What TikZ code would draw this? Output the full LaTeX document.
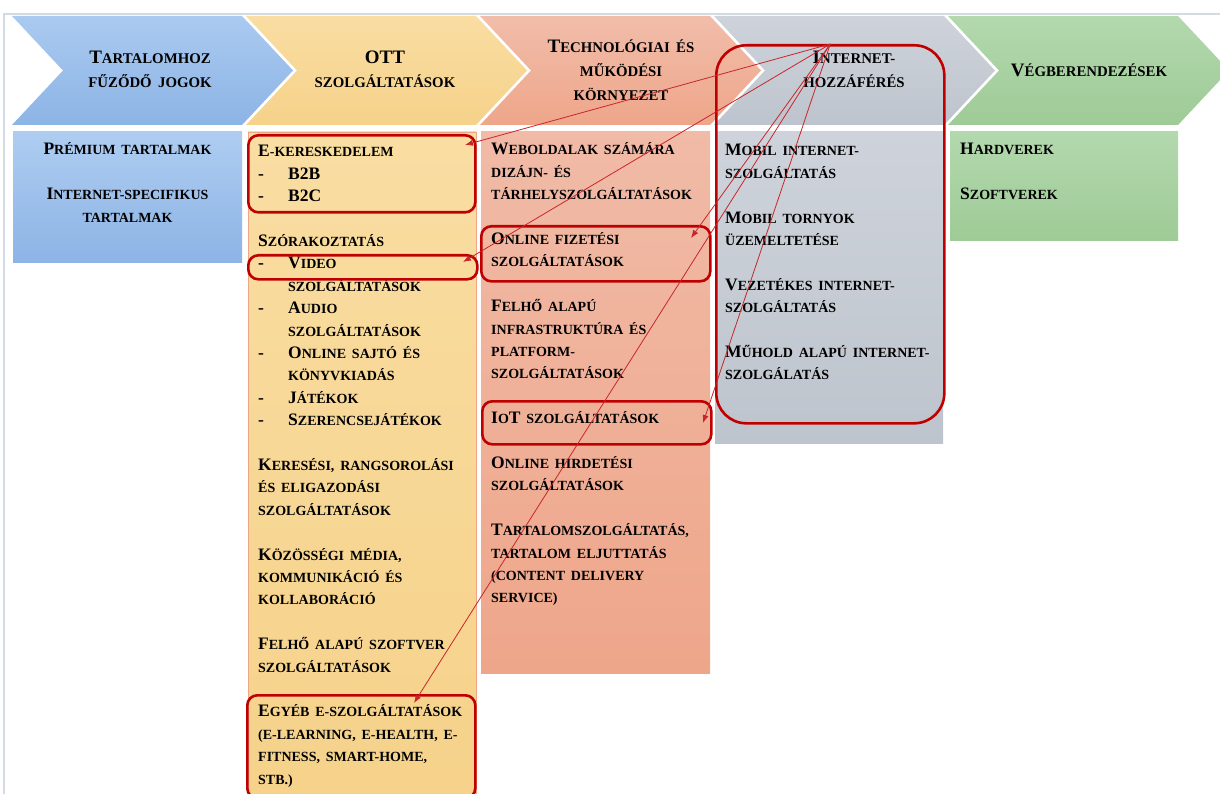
\documentclass[tikz,border=0pt]{standalone}
\usepackage{fontspec}
\setmainfont{Liberation Serif}
\usetikzlibrary{arrows.meta}

\definecolor{blueT}{HTML}{AACAF0}
\definecolor{blueB}{HTML}{8CB4E5}
\definecolor{yellowT}{HTML}{F9DDA2}
\definecolor{yellowB}{HTML}{F6D28A}
\definecolor{salmonT}{HTML}{F1BDAA}
\definecolor{salmonB}{HTML}{EEA68A}
\definecolor{grayT}{HTML}{CED3DB}
\definecolor{grayB}{HTML}{BEC4CD}
\definecolor{greenT}{HTML}{B3D8AE}
\definecolor{greenB}{HTML}{9ECB96}
\definecolor{yellowEdge}{HTML}{EDA583}
\definecolor{boxred}{HTML}{C00000}
\definecolor{linkred}{HTML}{C8262B}
\definecolor{framegray}{HTML}{D3DAE3}

% small capitals made from scaled-down capitals
\newcommand\loratio{0.8}
\makeatletter
\newcommand\lo[1]{{\fontsize{\fpeval{\loratio*\f@size}}{\f@baselineskip}\selectfont #1}}
\makeatother
\newcommand\itm[1]{\makebox[30pt][l]{-}#1}
\newcommand\ind{\hspace*{30pt}}

\begin{document}
\begin{tikzpicture}[x=1pt,y=-1pt,
  hdr/.style={anchor=base, text width=230pt, align=center, inner sep=0pt,
    font=\renewcommand\loratio{0.78}\bfseries\fontsize{19}{23.8}\selectfont},
  body/.style={anchor=base west, text width=240pt, align=left, inner sep=0pt,
    font=\bfseries\fontsize{17.5}{22.4}\selectfont},
  bodyc/.style={body, anchor=base, text width=229pt, align=center},
  redbox/.style={draw=boxred, line width=2.6pt, rounded corners=10pt,
    inner sep=0pt, anchor=north west},
  link/.style={draw=linkred, line width=0.8pt, -{Latex[length=8pt,width=6pt]}},
]
\clip (0,0) rectangle (1220,794);
\fill[white] (0,0) rectangle (1220,794);

% outer frame
\draw[framegray, line width=2pt] (4,800) -- (4,14) -- (1225,14);

% value-chain chevrons
\foreach \L/\ct/\cb in {12/blueT/blueB, 246/yellowT/yellowB, 480/salmonT/salmonB,
                        714/grayT/grayB, 948/greenT/greenB}
  \shade[top color=\ct, bottom color=\cb]
    (\L,16) -- ++(230,0) -- ++(51,54.5) -- ++(-51,54.5) -- ++(-230,0)
    -- ++(51,-54.5) -- cycle;

% columns under the chevrons
\shade[top color=blueT!95!white, bottom color=blueB] (13,132) rectangle (242,263);
\shadedraw[top color=yellowT, bottom color=yellowB, draw=yellowEdge, line width=0.8pt]
  (248,132) rectangle (476,800);
\shade[top color=salmonT!90!salmonB, bottom color=salmonB] (481,132) rectangle (710,673);
\shade[top color=grayT, bottom color=grayB] (715,132) rectangle (943,443);
\shade[top color=greenT, bottom color=greenB] (950,132) rectangle (1178,241);

% chevron titles
\node[hdr] (h1) at (150,64) {T\lo{ARTALOMHOZ}\\\lo{FŰZŐDŐ JOGOK}};
\node[hdr] (h2) at (385,64) {OTT\\\lo{SZOLGÁLTATÁSOK}};
\node[hdr] (h3) at (621,53) {T\lo{ECHNOLÓGIAI ÉS}\\\lo{MŰKÖDÉSI}\\\lo{KÖRNYEZET}};
\node[hdr] (h4) at (854,64) {I\lo{NTERNET-}\\\lo{HOZZÁFÉRÉS}};
\node[hdr] (h5) at (1089,77) {V\lo{ÉGBERENDEZÉSEK}};

% column contents
\node[bodyc] (t1) at (127.5,155) {P\lo{RÉMIUM TARTALMAK}\\[22.4pt]
  I\lo{NTERNET-SPECIFIKUS}\\\lo{TARTALMAK}};

\node[body] (t2) at (258,157) {E\lo{-KERESKEDELEM}\\
\itm{B2B}\\
\itm{B2C}\\[22.4pt]
S\lo{ZÓRAKOZTATÁS}\\
\itm{V\lo{IDEO}}\\
\ind\lo{SZOLGÁLTATÁSOK}\\
\itm{A\lo{UDIO}}\\
\ind\lo{SZOLGÁLTATÁSOK}\\
\itm{O\lo{NLINE SAJTÓ ÉS}}\\
\ind\lo{KÖNYVKIADÁS}\\
\itm{J\lo{ÁTÉKOK}}\\
\itm{S\lo{ZERENCSEJÁTÉKOK}}\\[22.4pt]
K\lo{ERESÉSI, RANGSOROLÁSI}\\
\lo{ÉS ELIGAZODÁSI}\\
\lo{SZOLGÁLTATÁSOK}\\[22.4pt]
K\lo{ÖZÖSSÉGI MÉDIA,}\\
\lo{KOMMUNIKÁCIÓ ÉS}\\
\lo{KOLLABORÁCIÓ}\\[22.4pt]
F\lo{ELHŐ ALAPÚ SZOFTVER}\\
\lo{SZOLGÁLTATÁSOK}\\[22.4pt]
E\lo{GYÉB E-SZOLGÁLTATÁSOK}\\
\lo{(E-LEARNING, E-HEALTH, E-}\\
\lo{FITNESS, SMART-HOME,}\\
\lo{STB.)}};

\node[body] (t3) at (491,155) {W\lo{EBOLDALAK SZÁMÁRA}\\
\lo{DIZÁJN- ÉS}\\
\lo{TÁRHELYSZOLGÁLTATÁSOK}\\[22.4pt]
O\lo{NLINE FIZETÉSI}\\
\lo{SZOLGÁLTATÁSOK}\\[22.4pt]
F\lo{ELHŐ ALAPÚ}\\
\lo{INFRASTRUKTÚRA ÉS}\\
\lo{PLATFORM-}\\
\lo{SZOLGÁLTATÁSOK}\\[22.4pt]
I\lo{O}T \lo{SZOLGÁLTATÁSOK}\\[22.4pt]
O\lo{NLINE HIRDETÉSI}\\
\lo{SZOLGÁLTATÁSOK}\\[22.4pt]
T\lo{ARTALOMSZOLGÁLTATÁS,}\\
\lo{TARTALOM ELJUTTATÁS}\\
\lo{(CONTENT DELIVERY}\\
\lo{SERVICE)}};

\node[body] (t4) at (725,156) {M\lo{OBIL INTERNET-}\\
\lo{SZOLGÁLTATÁS}\\[22.4pt]
M\lo{OBIL TORNYOK}\\
\lo{ÜZEMELTETÉSE}\\[22.4pt]
V\lo{EZETÉKES INTERNET-}\\
\lo{SZOLGÁLTATÁS}\\[22.4pt]
M\lo{ŰHOLD ALAPÚ INTERNET-}\\
\lo{SZOLGÁLATÁS}};

\node[body] (t5) at (960,155) {H\lo{ARDVEREK}\\[22.4pt]
S\lo{ZOFTVEREK}};

% highlighted items
\node[redbox, minimum width=227pt, minimum height=77pt] (eker) at (247,134) {};
\node[redbox, minimum width=229pt, minimum height=24pt] (video) at (247,254) {};
\node[redbox, minimum width=229pt, minimum height=55pt] (fizet) at (480,225) {};
\node[redbox, minimum width=229pt, minimum height=43pt] (iot) at (481,400) {};
\node[redbox, minimum width=228pt, minimum height=103pt] (egyeb) at (246,694) {};
\node[redbox, rounded corners=30pt, minimum width=228pt, minimum height=378pt] (inet) at (715,44) {};

% arrow tips inside the highlighted items
\coordinate (tEker) at (465,145);
\coordinate (tVideo) at (463,262);
\coordinate (tFizet) at (691,238);
\coordinate (tIot) at (703,423);
\coordinate (tEgyeb) at (414,703);

\draw[link] (inet.north) -- (tEker);
\draw[link] (inet.north) -- (tVideo);
\draw[link] (inet.north) -- (tFizet);
\draw[link] (inet.north) -- (tIot);
\draw[link] (inet.north) -- (tEgyeb);
\end{tikzpicture}
\end{document}
